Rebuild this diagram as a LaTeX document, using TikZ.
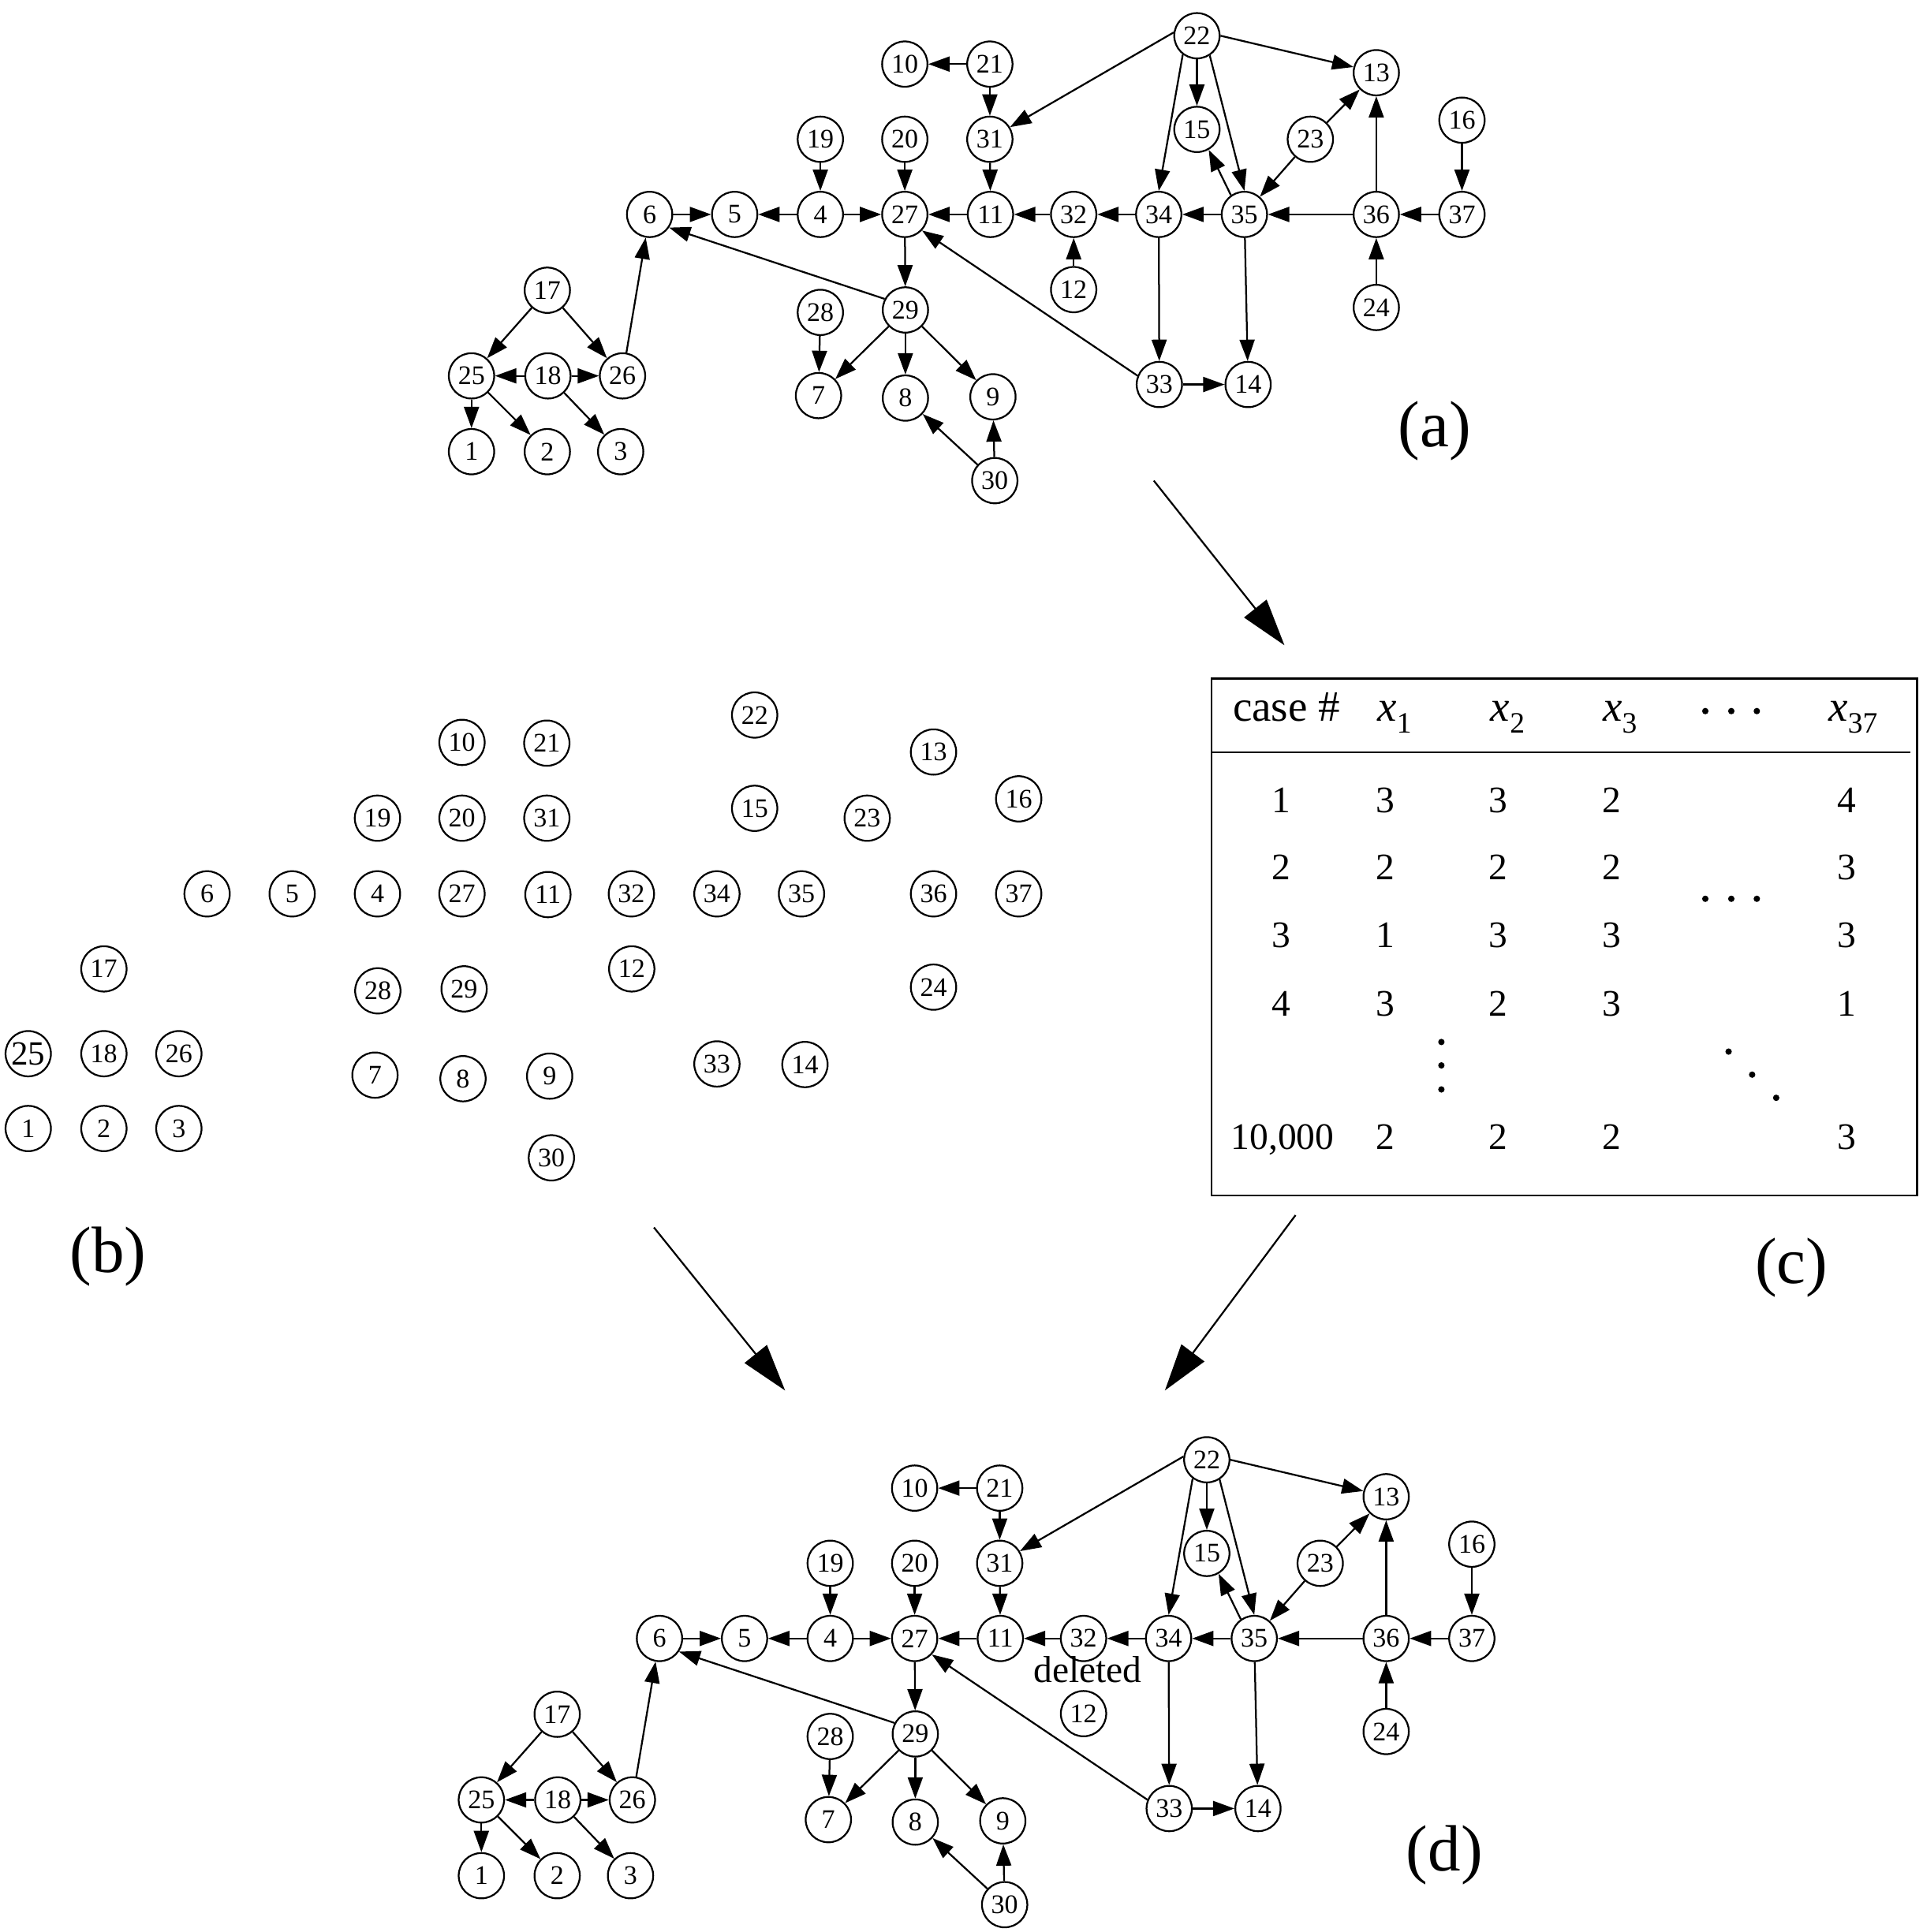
\documentclass[tikz,border=0pt]{standalone}
\usepackage{fontspec}
\setmainfont{Liberation Serif}
\usetikzlibrary{arrows.meta}
\newcommand\xs[1]{\textit{x}\raisebox{-2.9pt}{\fontsize{7.5}{8}\selectfont #1}}
\newcommand\gnodes[1]{%
  \foreach \n/\x/\y in {22/971/29,10/734/52,21/803/52,13/1116.5/59,15/971/105,31/803/113,
    19/665.5/113,20/734/113,23/1063/113,16/1186/97.5,6/527/174,5/596/174,4/665.5/174,
    27/734/174,11/803.5/174,32/871/174,34/940/174,35/1009.5/174,36/1116.5/174,37/1186/174,
    17/444/235.5,12/871/235,28/665.5/253.5,29/734.5/251.5,24/1116.5/249.5,25/382.5/305,
    18/444.5/305,26/505/305,7/664/321,8/734.5/323,9/805.5/322,33/940.5/312,14/1012.5/312,
    1/382.5/366.5,2/444/366.5,3/503.5/366.5,30/807/390}
  {\node[nd] (#1\n) at (\x,\y) {\n};}
  \foreach \s/\t in {21/10,21/31,22/15,19/4,20/27,31/11,4/5,4/27,
    6/5,11/27,32/11,34/32,35/34,23/13,23/35,36/35,36/13,37/36,16/37,24/36,34/33,
    35/14,33/14,27/29,29/7,29/8,29/9,28/7,30/8,30/9,17/25,17/26,18/25,18/26,
    18/3,25/1,25/2,26/6}
  {\draw[ed] (#1\s) -- (#1\t);}
  \foreach \s/\sa/\t/\ta in {22/-57/35/90, 22/-127/34/90, 35/125.5/15/-60.5,
    22/172/31/31, 22/0/13/166, 33/158/27/-43, 29/152/6/-34}
  {\draw[ed] (#1\s.\sa) -- (#1\t.\ta);}
}
\begin{document}
\begin{tikzpicture}[x=0.31256pt,y=-0.31256pt,
  nd/.style={circle,draw,line width=0.45pt,minimum size=11.5pt,inner sep=0pt,
    font=\fontsize{6.8}{7}\selectfont},
  ed/.style={line width=0.45pt,-{Triangle[length=5.4pt,width=3.8pt]}},
  bigarrow/.style={line width=0.45pt,-{Triangle[length=11.9pt,width=7.2pt]}},
  lab/.style={font=\fontsize{16.6}{18}\selectfont},
  tbl/.style={font=\fontsize{9.5}{11}\selectfont,anchor=base},
  hdr/.style={font=\fontsize{11}{12}\selectfont,anchor=base west,inner sep=0pt},
  dotf/.style={fill=black}]
\useasboundingbox (0,0) rectangle (1560,1567.7);

% (a)
\gnodes{a}
\draw[ed] (a12) -- (a32);
\node[lab] (la) at (1163.8,350) {(a)};

% (b)
\foreach \n/\x/\y in {22/612.2/580.2,10/374.8/602.4,21/443.6/603,13/757.3/610.2,
  19/306.2/663.9,20/374.8/663.9,31/443.6/663.9,15/612.2/655.9,23/703.5/663.9,16/826.4/648.2,
  6/168/725.3,5/237/725.3,4/306.2/725.3,27/374.8/725.3,11/444.5/725.9,32/512.2/725.3,
  34/581.6/725.3,35/650.2/725.3,36/757.3/725.3,37/826.4/725.3,17/84.3/786.2,12/512.5/786.2,
  28/306.5/804,29/376.5/802.4,24/757.3/801,18/84.3/855,26/145.1/855,
  7/304.2/872.4,8/375.6/875.3,9/445.9/873.2,33/581.6/863.3,14/653/863.8,
  1/22.9/915.7,2/84.3/915.7,3/145.1/915.7,30/447.3/939.5}
  {\node[nd] (b\n) at (\x,\y) {\n};}
\node[nd,font=\fontsize{8.6}{9}\selectfont] (b25) at (22.9,855) {25};
\node[lab] (lb) at (87.7,1019.8) {(b)};

% (c) table
\node[draw,line width=0.47pt,minimum width=572.2*0.31256pt,minimum height=419.4*0.31256pt,
  inner sep=0pt] (tab) at (1269.1,760.3) {};
\coordinate (hl) at (983,610.6);
\coordinate (hr) at (1549.6,610.6);
\draw[line width=0.47pt] (hl) -- (hr);
\node[hdr] (hcase) at (999.5,585.4) {case \#};
\node[hdr] (hx1) at (1116.8,585.4) {\xs{1}};
\node[hdr] (hx2) at (1208.7,585.4) {\xs{2}};
\node[hdr] (hx3) at (1299.7,585.4) {\xs{3}};
\node[hdr] (hx37) at (1482.9,585.4) {\xs{37}};
\foreach \x in {1383.4,1404.5,1425.2} {
  \fill[dotf] (\x,577) circle[radius=2.6];
  \fill[dotf] (\x,729.3) circle[radius=2.6];
}
\foreach \y in {845.5,864.5,884} {\fill[dotf] (1169.3,\y) circle[radius=2.6];}
\fill[dotf] (1402.3,853.3) circle[radius=2.6];
\fill[dotf] (1421.4,872) circle[radius=2.6];
\fill[dotf] (1440.9,890.8) circle[radius=2.6];
\foreach \r/\y/\a/\b/\c/\d in {1/659.3/3/3/2/4, 2/713.7/2/2/2/3, 3/769/1/3/3/3, 4/824.3/3/2/3/1}{
  \node[tbl] (r\r c0) at (1039.3,\y) {\r};
  \node[tbl] (r\r c1) at (1123.6,\y) {\a};
  \node[tbl] (r\r c2) at (1215.4,\y) {\b};
  \node[tbl] (r\r c3) at (1307.2,\y) {\c};
  \node[tbl] (r\r c4) at (1498.2,\y) {\d};
}
\node[tbl] (r5c0) at (1040.4,932.9) {10,000};
\node[tbl] (r5c1) at (1123.6,932.9) {2};
\node[tbl] (r5c2) at (1215.4,932.9) {2};
\node[tbl] (r5c3) at (1307.2,932.9) {2};
\node[tbl] (r5c4) at (1498.2,932.9) {3};
\node[lab] (lc) at (1453.2,1028.3) {(c)};

% big arrows
\coordinate (A1s) at (936,390);   \coordinate (A1e) at (1042,523.6);
\coordinate (A2s) at (530.5,996); \coordinate (A2e) at (636.9,1128.3);
\coordinate (A3s) at (1051,986);  \coordinate (A3e) at (945,1128.3);
\draw[bigarrow] (A1s) -- (A1e);
\draw[bigarrow] (A2s) -- (A2e);
\draw[bigarrow] (A3s) -- (A3e);

% (d)
\begin{scope}[shift={(8,1155.5)}]
\gnodes{d}
\end{scope}
\node[tbl] (del) at (882.3,1364.9) {deleted};
\node[lab] (ld) at (1171.8,1505.5) {(d)};
\end{tikzpicture}
\end{document}
